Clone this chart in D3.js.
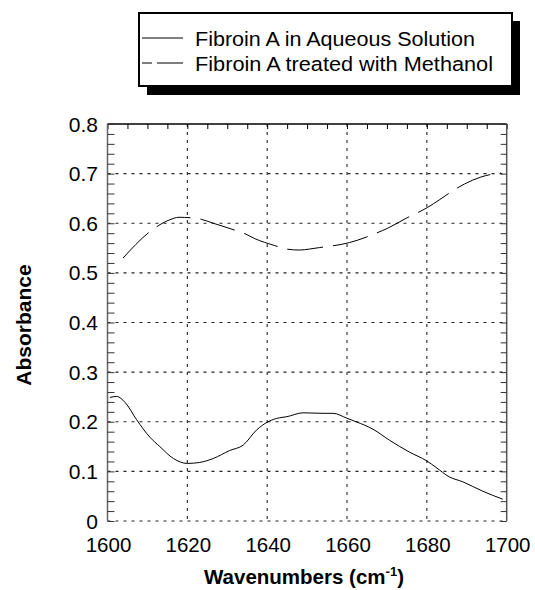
<!DOCTYPE html>
<html><head><meta charset="utf-8">
<script src="https://cdn.jsdelivr.net/npm/d3@7"></script>
<style>body{margin:0;background:#fff}svg{display:block}text{font-family:"Liberation Sans",Arial,sans-serif}</style>
</head><body><svg id="c" width="535" height="590"></svg>
<script>
const seriesNames = ["Fibroin A in Aqueous Solution", "Fibroin A treated with Methanol"];
const aqueousWn = [1600.6,1602.3,1604.4,1607.3,1610.6,1613.1,1616.5,1620,1623.1,1626.5,1630.6,1634,1637.3,1640.2,1643.1,1644.8,1649,1654,1656.5,1660,1662.3,1666.5,1670.6,1675.6,1680,1682.3,1685.6,1689,1694,1699];
const aqueousAbs = [0.249,0.251,0.239,0.204,0.169,0.150,0.126,0.116,0.118,0.126,0.142,0.153,0.183,0.200,0.208,0.210,0.218,0.217,0.217,0.207,0.200,0.185,0.163,0.139,0.121,0.108,0.089,0.079,0.060,0.044];
const methanolWn = [1603.9,1610.6,1612.7,1615.6,1617.9,1622.9,1626.5,1632.3,1634.4,1636.9,1641.9,1644.8,1648.1,1650.6,1653.1,1656,1660.6,1664.8,1667.3,1670.2,1674.8,1680.2,1683.1,1686.6,1689.4,1693.5,1698.5];
const methanolAbs = [0.530,0.583,0.595,0.607,0.612,0.609,0.600,0.585,0.579,0.569,0.555,0.548,0.546,0.548,0.551,0.554,0.561,0.572,0.580,0.590,0.610,0.632,0.647,0.666,0.679,0.693,0.702];
const xTicks = [1600,1620,1640,1660,1680,1700];
const yTicks = [0,0.1,0.2,0.3,0.4,0.5,0.6,0.7,0.8];
const xTickLabels = ["1600","1620","1640","1660","1680","1700"];
const yTickLabels = ["0","0.1","0.2","0.3","0.4","0.5","0.6","0.7","0.8"];

const svg = d3.select("#c");
const L = 107.5, R = 506.7, T = 124, B = 521;
const x = d3.scaleLinear().domain([1600,1700]).range([L,R]);
const y = d3.scaleLinear().domain([0,0.8]).range([B,T]);

// gridlines
const g = svg.append("g");
g.selectAll(".hg").data(yTicks.filter(v=>v>0 && v<0.8)).join("line")
  .attr("x1",L).attr("x2",R).attr("y1",d=>y(d)).attr("y2",d=>y(d))
  .attr("stroke","#222").attr("stroke-width",1.1).attr("stroke-dasharray","3,5");
g.selectAll(".vg").data(xTicks.filter(v=>v>1600 && v<1700)).join("line")
  .attr("y1",T).attr("y2",B).attr("x1",d=>x(d)).attr("x2",d=>x(d))
  .attr("stroke","#222").attr("stroke-width",1.1).attr("stroke-dasharray","3,5");
g.append("line").attr("x1",L).attr("x2",R).attr("y1",B).attr("y2",B)
  .attr("stroke","#222").attr("stroke-width",1.1).attr("stroke-dasharray","3,5");

// top axis with inward ticks
const topAx = d3.axisBottom(x).tickValues(d3.range(1600,1701,5)).tickSize(5).tickFormat("");
const ta = svg.append("g").attr("transform",`translate(0,${T})`).call(topAx);
ta.select(".domain").attr("stroke","#000").attr("stroke-width",1.3).attr("d",`M${L},0H${R}`);
ta.selectAll(".tick line").attr("stroke","#000");
const leftAx = d3.axisRight(y).tickValues(d3.range(0,0.801,0.02)).tickSize(7).tickFormat("");
const la = svg.append("g").attr("transform",`translate(${L},0)`).call(leftAx);
la.select(".domain").attr("stroke","#666").attr("stroke-width",1.5).attr("d",`M0,${T}V${B}`);
la.selectAll(".tick line").attr("stroke","#333");
const rightAx = d3.axisLeft(y).tickValues(d3.range(0,0.801,0.02)).tickSize(6).tickFormat("");
const ra = svg.append("g").attr("transform",`translate(${R},0)`).call(rightAx);
ra.select(".domain").attr("stroke","#555").attr("stroke-width",1.5).attr("d",`M0,${T}V${B}`);
ra.selectAll(".tick line").attr("stroke","#333");

// tick labels
svg.selectAll(".yl").data(yTicks).join("text")
  .attr("x",98).attr("y",d=>y(d)+7.5).attr("text-anchor","end")
  .attr("font-size",21).text((d,i)=>yTickLabels[i]);
svg.selectAll(".xl").data(xTicks).join("text")
  .attr("x",d=>x(d)+1).attr("y",552).attr("text-anchor","middle")
  .attr("font-size",20.5).text((d,i)=>xTickLabels[i]);

// axis titles
const xt = svg.append("text").attr("x",304).attr("y",584).attr("text-anchor","middle")
  .attr("font-size",20.5).attr("font-weight","bold");
xt.append("tspan").text("Wavenumbers (cm");
xt.append("tspan").attr("font-size",13).attr("dy",-8).text("-1");
xt.append("tspan").attr("dy",8).text(")");
svg.append("text").attr("transform","translate(31,325) rotate(-90)").attr("text-anchor","middle")
  .attr("font-size",21).attr("font-weight","bold").text("Absorbance");

// curves
const line = d3.line().x(d=>x(d[0])).y(d=>y(d[1])).curve(d3.curveMonotoneX);
svg.append("path").datum(d3.zip(aqueousWn,aqueousAbs)).attr("d",line)
  .attr("fill","none").attr("stroke","#000").attr("stroke-width",1);
svg.append("path").datum(d3.zip(methanolWn,methanolAbs)).attr("d",line)
  .attr("fill","none").attr("stroke","#000").attr("stroke-width",1).attr("stroke-dasharray","36,10");

// legend
const lg = svg.append("g");
lg.append("rect").attr("x",147).attr("y",21).attr("width",373).attr("height",74).attr("fill","#000");
lg.append("rect").attr("x",139).attr("y",13).attr("width",373).attr("height",73)
  .attr("fill","#fff").attr("stroke","#000").attr("stroke-width",2);
const ly = [38, 63];
lg.selectAll(".ll").data(seriesNames).join("line")
  .attr("x1",142).attr("x2",183).attr("y1",(d,i)=>ly[i]).attr("y2",(d,i)=>ly[i])
  .attr("stroke","#000").attr("stroke-width",1).attr("stroke-dasharray",(d,i)=>i?"10,5,26,0":null);
const tl = [280, 298];
lg.selectAll(".lt").data(seriesNames).join("text")
  .attr("x",195).attr("y",(d,i)=>ly[i]+7.5).attr("font-size",20.5)
  .attr("textLength",(d,i)=>tl[i]).attr("lengthAdjust","spacingAndGlyphs").text(d=>d);
</script></body></html>
